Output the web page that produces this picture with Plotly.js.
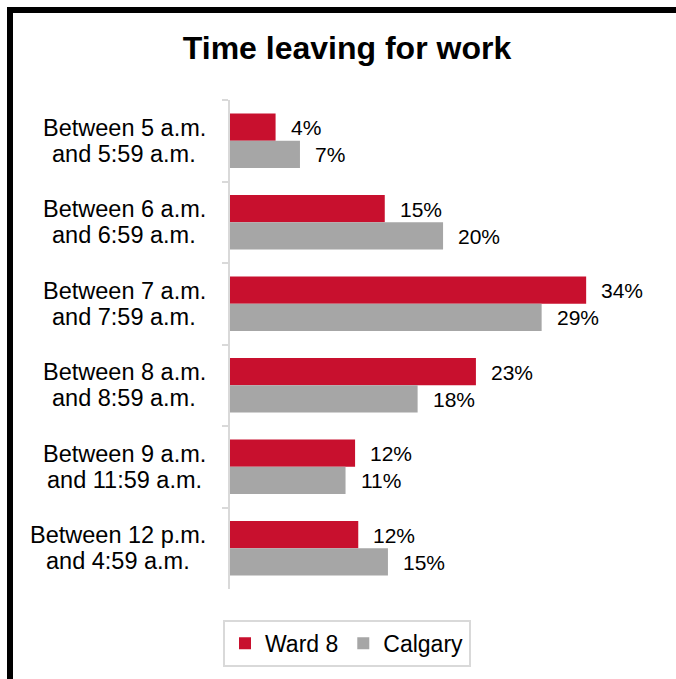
<!DOCTYPE html>
<html>
<head>
<meta charset="utf-8">
<script src="https://cdn.plot.ly/plotly-3.0.1.min.js"></script>
<style>
  html, body { margin: 0; padding: 0; background: #fff; }
  #wrap { position: relative; width: 676px; height: 679px; overflow: hidden; }
  #chart { position: absolute; left: 0; top: 0; width: 676px; height: 679px; }
  #frame { position: absolute; left: 7px; top: 7px; width: 720px; height: 720px;
           border-top: 6px solid #000; border-left: 6px solid #000; pointer-events: none; }
</style>
</head>
<body>
<div id="wrap"><div id="chart"></div><div id="frame"></div></div>
<script>
const categories = [
  "Between 5 a.m.<br>and 5:59 a.m.",
  "Between 6 a.m.<br>and 6:59 a.m.",
  "Between 7 a.m.<br>and 7:59 a.m.",
  "Between 8 a.m.<br>and 8:59 a.m.",
  "Between 9 a.m.<br>and 11:59 a.m.",
  "Between 12 p.m.<br>and 4:59 a.m."
];
const ward8Values   = [4.3, 14.6, 33.6, 23.2, 11.8, 12.1];
const calgaryValues = [6.6, 20.1, 29.4, 17.7, 10.9, 14.9];
const ward8Labels   = ["4%", "15%", "34%", "23%", "12%", "12%"];
const calgaryLabels = ["7%", "20%", "29%", "18%", "11%", "15%"];
const seriesNames = ["Ward 8", "Calgary"];
const titleText = "Time leaving for work";

const RED = "#C8102E", GRAY = "#A6A6A6", AXIS = "#D9D9D9";
const FONT = "Liberation Sans, Arial, sans-serif";
const TICK_SIZE = 23.5;

const ML = 230, MR = 16, MT = 100, MB = 86, W = 676, H = 679;
const plotW = W - ML - MR;

const traces = [
  { type: "bar", orientation: "h", name: seriesNames[0], y: categories, x: ward8Values,
    marker: { color: RED }, hoverinfo: "skip" },
  { type: "bar", orientation: "h", name: seriesNames[1], y: categories, x: calgaryValues,
    marker: { color: GRAY }, hoverinfo: "skip" }
];

// measure label widths so each two-line block is right-aligned at 206px with centred lines
const ctx = document.createElement("canvas").getContext("2d");
ctx.font = TICK_SIZE + "px 'Liberation Sans', Arial, sans-serif";

const annotations = [];
categories.forEach((c, i) => {
  const lines = c.split("<br>");
  const blockW = Math.max(...lines.map(s => ctx.measureText(s).width));
  const centreX = 206 - blockW / 2;
  lines.forEach((ln, k) => {
    annotations.push({ x: (centreX - ML) / plotW, xref: "paper", y: c, yref: "y",
      text: ln, showarrow: false, xanchor: "center", yshift: k === 0 ? 13 : -13,
      font: { family: FONT, size: TICK_SIZE, color: "#000" } });
  });
  annotations.push({ x: ward8Values[i], y: c, xref: "x", yref: "y", text: ward8Labels[i],
    showarrow: false, xanchor: "left", xshift: 13, yshift: 13,
    font: { family: FONT, size: 21, color: "#000" } });
  annotations.push({ x: calgaryValues[i], y: c, xref: "x", yref: "y", text: calgaryLabels[i],
    showarrow: false, xanchor: "left", xshift: 13, yshift: -14,
    font: { family: FONT, size: 21, color: "#000" } });
});

const layout = {
  width: W, height: H,
  margin: { l: ML, r: MR, t: MT, b: MB, pad: 0 },
  paper_bgcolor: "#fff", plot_bgcolor: "#fff",
  title: { text: "<b>" + titleText + "</b>", x: 347 / W, xanchor: "center",
           y: 1 - 48 / H, yanchor: "middle", yref: "container",
           font: { family: FONT, size: 32, color: "#000" } },
  barmode: "group", bargap: 0.33, bargroupgap: 0,
  xaxis: { range: [0, plotW / 10.6], showgrid: false, zeroline: false,
           showticklabels: false, showline: false, ticks: "", fixedrange: true },
  yaxis: { autorange: "reversed", type: "category", showgrid: false, zeroline: false,
           showline: true, linecolor: AXIS, linewidth: 2,
           ticks: "outside", tickson: "boundaries", ticklen: 6, tickcolor: AXIS, tickwidth: 2,
           showticklabels: false },
  showlegend: true,
  legend: { orientation: "h", x: (347 - ML) / plotW, xanchor: "center",
            y: -31 / (H - MT - MB), yanchor: "top", traceorder: "normal",
            bordercolor: AXIS, borderwidth: 2, bgcolor: "#fff",
            font: { family: FONT, size: 23, color: "#000" } },
  annotations: annotations
};

document.fonts.ready.then(() => {
  Plotly.newPlot("chart", traces, layout, { staticPlot: true, displayModeBar: false });
});
</script>
</body>
</html>
